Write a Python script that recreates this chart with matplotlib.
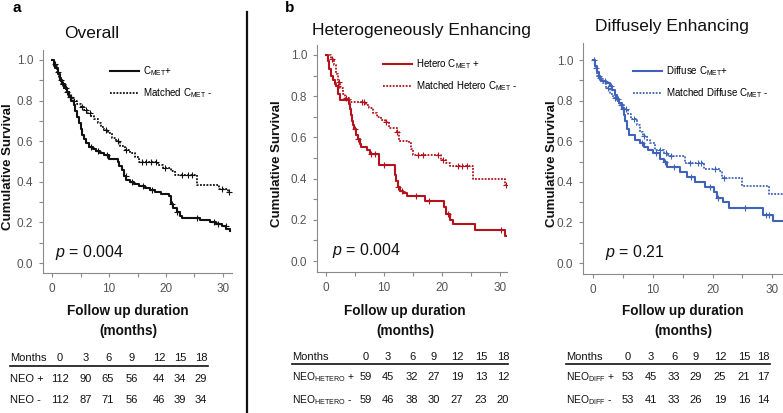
import numpy as np
import matplotlib
matplotlib.use("Agg")
import matplotlib.pyplot as plt
from matplotlib import font_manager
from matplotlib.lines import Line2D
from matplotlib.ticker import MultipleLocator

# ---------------- data ----------------
a_pos_t = [0, 0.3, 0.6, 1.0, 1.4, 1.8, 2.2, 2.6, 3.0, 3.4, 3.8, 4.1, 4.4, 4.7, 5.0, 5.3, 5.6, 6.0, 6.5, 7.2, 7.8, 8.5, 9.2, 10.0, 11.5, 11.8, 12.2, 12.6, 13.0, 13.6, 14.3, 15.2, 16.3, 17.2, 18.1, 19.2, 20.5, 20.8, 21.3, 21.9, 22.4, 22.8, 26.0, 27.8, 28.8, 29.8, 30.6, 31.2]
a_pos_s = [1.0, 0.98, 0.96, 0.93, 0.90, 0.88, 0.86, 0.84, 0.82, 0.80, 0.78, 0.75, 0.72, 0.69, 0.66, 0.63, 0.61, 0.59, 0.57, 0.56, 0.55, 0.54, 0.53, 0.51, 0.50, 0.48, 0.46, 0.43, 0.41, 0.40, 0.39, 0.38, 0.37, 0.36, 0.35, 0.34, 0.33, 0.29, 0.27, 0.25, 0.23, 0.22, 0.21, 0.20, 0.19, 0.18, 0.17, 0.16]
a_neg_t = [0, 0.4, 0.8, 1.2, 1.6, 2.0, 2.5, 3.0, 3.6, 4.3, 5.0, 5.6, 6.2, 6.8, 7.4, 8.0, 8.6, 9.2, 9.8, 10.5, 11.2, 12.0, 12.8, 13.6, 14.5, 15.3, 18.6, 19.5, 20.8, 21.6, 25.5, 29.3, 30.8]
a_neg_s = [1.0, 0.97, 0.94, 0.91, 0.88, 0.86, 0.84, 0.82, 0.80, 0.785, 0.77, 0.755, 0.74, 0.725, 0.71, 0.69, 0.67, 0.655, 0.64, 0.615, 0.60, 0.575, 0.555, 0.54, 0.52, 0.50, 0.485, 0.47, 0.455, 0.435, 0.385, 0.365, 0.35]
a_pos_cens = [0.5, 1.5, 2.4, 3.1, 6.8, 8.0, 9.6, 12.9, 14.0, 16.0, 17.5, 21.0, 22.0, 25.5, 28.5, 29.2, 30.5]
a_neg_cens = [1.0, 1.9, 2.6, 3.3, 3.9, 5.2, 6.0, 6.6, 9.5, 11.5, 13.0, 15.8, 16.5, 17.3, 18.2, 19.8, 22.8, 23.8, 24.6, 29.9, 31.0]
a_end = 31.3

b_pos_t = [0, 0.3, 0.6, 0.9, 1.2, 1.5, 1.8, 2.1, 2.4, 3.9, 4.1, 4.3, 4.5, 4.7, 4.9, 5.2, 5.5, 5.8, 6.1, 7.0, 7.6, 9.2, 11.9, 12.1, 12.4, 12.7, 13.3, 13.9, 17.1, 20.3, 20.7, 21.3, 21.9, 25.6, 30.9]
b_pos_s = [1.0, 0.97, 0.93, 0.90, 0.88, 0.86, 0.85, 0.81, 0.78, 0.76, 0.74, 0.71, 0.68, 0.66, 0.64, 0.61, 0.59, 0.57, 0.555, 0.54, 0.52, 0.465, 0.42, 0.39, 0.36, 0.34, 0.33, 0.315, 0.29, 0.26, 0.23, 0.20, 0.18, 0.15, 0.12]
b_neg_t = [0, 0.8, 1.3, 1.7, 2.1, 2.5, 2.9, 3.3, 4.0, 4.3, 6.9, 7.4, 8.1, 8.8, 9.4, 10.2, 10.8, 12.2, 12.5, 14.3, 14.6, 15.0, 19.8, 20.6, 21.3, 25.3, 30.9]
b_neg_s = [1.0, 0.98, 0.95, 0.91, 0.87, 0.84, 0.81, 0.79, 0.78, 0.772, 0.755, 0.745, 0.72, 0.70, 0.685, 0.675, 0.645, 0.625, 0.585, 0.575, 0.545, 0.515, 0.49, 0.475, 0.46, 0.40, 0.37]
b_pos_cens = [2.0, 5.0, 5.6, 7.8, 8.5, 10.0, 12.4, 13.1, 15.5, 17.8, 21.0, 30.2]
b_neg_cens = [1.0, 2.3, 3.5, 6.2, 6.6, 10.3, 12.3, 15.8, 16.8, 19.3, 20.2, 22.8, 23.5, 24.3, 31.0]
b_end = 31.1

c_pos_t = [0, 0.3, 0.6, 1.0, 1.4, 2.1, 2.8, 3.2, 3.6, 4.0, 4.4, 4.8, 5.1, 5.4, 5.7, 6.0, 7.0, 7.9, 8.6, 9.2, 10.1, 11.2, 11.8, 12.3, 14.6, 15.7, 17.1, 18.8, 20.2, 20.7, 21.8, 22.7, 28.5, 30.2]
c_pos_s = [1.0, 0.97, 0.94, 0.91, 0.895, 0.885, 0.87, 0.85, 0.83, 0.81, 0.79, 0.76, 0.73, 0.70, 0.66, 0.63, 0.605, 0.59, 0.57, 0.555, 0.54, 0.515, 0.50, 0.475, 0.45, 0.425, 0.40, 0.375, 0.35, 0.32, 0.30, 0.27, 0.235, 0.205]
c_neg_t = [0, 0.3, 0.7, 1.1, 1.6, 2.2, 2.8, 3.3, 3.8, 4.4, 5.2, 5.8, 6.3, 7.3, 7.8, 8.4, 9.0, 9.6, 10.4, 11.8, 12.6, 15.4, 18.5, 21.3, 21.6, 24.9, 29.4]
c_neg_s = [1.0, 0.96, 0.92, 0.90, 0.885, 0.86, 0.835, 0.815, 0.80, 0.78, 0.76, 0.735, 0.71, 0.68, 0.645, 0.625, 0.605, 0.59, 0.555, 0.54, 0.525, 0.495, 0.465, 0.455, 0.42, 0.38, 0.34]
c_pos_cens = [0.2, 1.2, 2.0, 3.0, 4.2, 5.0, 8.2, 10.5, 12.0, 13.6, 16.4, 19.6, 21.0, 25.5, 28.9, 29.5]
c_neg_cens = [0.5, 1.0, 2.5, 3.6, 4.6, 5.6, 6.8, 8.6, 11.2, 12.2, 13.0, 16.2, 17.5, 18.0, 20.5, 22.0]
c_end = 31.8

table_months = [0, 3, 6, 9, 12, 15, 18]
a_pos_risk = [112, 90, 65, 56, 44, 34, 29]
a_neg_risk = [112, 87, 71, 56, 46, 39, 34]
b_pos_risk = [59, 45, 32, 27, 19, 13, 12]
b_neg_risk = [59, 46, 38, 30, 27, 23, 20]
c_pos_risk = [53, 45, 33, 29, 25, 21, 17]
c_neg_risk = [53, 41, 33, 26, 19, 16, 14]

titles = ["Overall", "Heterogeneously Enhancing", "Diffusely Enhancing"]
pvals = ["0.004", "0.004", "0.21"]

# ---------------- fonts ----------------
def have(fam):
    try:
        font_manager.findfont(font_manager.FontProperties(family=fam), fallback_to_default=False)
        return True
    except Exception:
        return False

SANS = "Liberation Sans" if have("Liberation Sans") else "DejaVu Sans"
NARROW = "Liberation Sans Narrow" if have("Liberation Sans Narrow") else SANS
plt.rcParams["font.family"] = [SANS, "DejaVu Sans"]
plt.rcParams["mathtext.fontset"] = "custom"
plt.rcParams["mathtext.rm"] = NARROW
plt.rcParams["mathtext.it"] = NARROW + ":italic"

W, H = 783, 413
fig = plt.figure(figsize=(W / 100, H / 100), dpi=100)
fig.patch.set_facecolor("white")

def ftext(x, y, s, **kw):
    kw.setdefault("va", "center")
    fig.text(x / W, 1 - y / H, s, **kw)

def make_ax(left, right, top, bottom, xlim, ylim):
    ax = fig.add_axes([left / W, 1 - bottom / H, (right - left) / W, (bottom - top) / H])
    ax.set_xlim(*xlim)
    ax.set_ylim(*ylim)
    for s in ["top", "right"]:
        ax.spines[s].set_visible(False)
    for s in ["left", "bottom"]:
        ax.spines[s].set_color("#8a8a8a")
        ax.spines[s].set_linewidth(0.8)
    ax.xaxis.set_major_locator(MultipleLocator(10))
    ax.xaxis.set_minor_locator(MultipleLocator(5))
    ax.yaxis.set_major_locator(MultipleLocator(0.2))
    ax.yaxis.set_minor_locator(MultipleLocator(0.1))
    ax.yaxis.set_major_formatter(matplotlib.ticker.FormatStrFormatter("%.1f"))
    ax.tick_params(which="both", direction="out", length=3, width=0.8, color="#8a8a8a",
                   labelcolor="#555555", labelsize=8.5, pad=4)
    ax.tick_params(which="minor", labelleft=False, labelbottom=False)
    ax.patch.set_alpha(0)
    return ax

def km(ax, t, s, end, cens, color, ls, lw, label):
    tt = list(t) + [end]
    ss = list(s) + [s[-1]]
    ax.plot(tt, ss, drawstyle="steps-post", color=color, ls=ls, lw=lw, label=label)
    ta = np.asarray(t)
    sa = np.asarray(s)
    cy = [sa[np.searchsorted(ta, c, side="right") - 1] for c in cens]
    ax.plot(cens, cy, ls="none", marker="+", ms=4, mew=0.8, color=color)

DOT = (0, (1, 0.8))

panels = [
    dict(rect=(43, 232, 50, 273), xlim=(-1.58, 31.58), ylim=(-0.049, 1.049),
         color="#111111",
         pos=(a_pos_t, a_pos_s, a_end, a_pos_cens), neg=(a_neg_t, a_neg_s, a_end, a_neg_cens),
         labels=[r"C$_{\mathrm{MET}}$+", r"Matched C$_{\mathrm{MET}}$ -"],
         leg=(110, 64), title=(92, 33), ylab=8, xlabc=128, pv=(55, 252)),
    dict(rect=(317, 507, 45, 272), xlim=(-1.55, 31.2), ylim=(-0.053, 1.0485),
         color="#b5121b",
         pos=(b_pos_t, b_pos_s, b_end, b_pos_cens), neg=(b_neg_t, b_neg_s, b_end, b_neg_cens),
         labels=[r"Hetero C$_{\mathrm{MET}}$ +", r"Matched Hetero C$_{\mathrm{MET}}$ -"],
         leg=(383, 57), title=(421, 30), ylab=277, xlabc=405, pv=(332, 250)),
    dict(rect=(583, 783, 43, 274), xlim=(-1.68, 31.8), ylim=(-0.054, 1.084),
         color="#3f63b8",
         pos=(c_pos_t, c_pos_s, c_end, c_pos_cens), neg=(c_neg_t, c_neg_s, c_end, c_neg_cens),
         labels=[r"Diffuse C$_{\mathrm{MET}}$+", r"Matched Diffuse C$_{\mathrm{MET}}$ -"],
         leg=(633, 64), title=(672, 27), ylab=552, xlabc=683, pv=(605, 252)),
]

for i, p in enumerate(panels):
    l, r, t, b = p["rect"]
    ax = make_ax(l, r, t, b, p["xlim"], p["ylim"])
    km(ax, *p["pos"], p["color"], "-", 1.5, p["labels"][0])
    km(ax, *p["neg"], p["color"], DOT, 1.3, p["labels"][1])
    lx, ly = p["leg"]
    ax.legend(loc="upper left", bbox_to_anchor=(lx / W, 1 - ly / H), bbox_transform=fig.transFigure,
              frameon=False, borderpad=0, borderaxespad=0, handlelength=3.0, handletextpad=0.4,
              labelspacing=0.85, prop=dict(family=NARROW, size=7.0))
    tx, ty = p["title"]
    ftext(tx, ty, titles[i], ha="center", fontsize=12.5, color="#111111")
    ftext(p["ylab"], (t + b) / 2 + 5, "Cumulative Survival", ha="center", rotation=90,
          fontsize=9.5, fontweight="bold", color="#111111")
    ftext(p["xlabc"], 311, "Follow up duration", ha="center", fontsize=9.8, fontweight="bold", color="#111111")
    ftext(p["xlabc"], 331, "(months)", ha="center", fontsize=9.8, fontweight="bold", color="#111111")
    px, py = p["pv"]
    ftext(px, py, r"$p$ = " + pvals[i], ha="left", fontsize=11.5, color="#111111",
          family=[SANS, "DejaVu Sans"])

# panel letters
ftext(17, 8, "a", ha="center", fontsize=11, fontweight="bold")
ftext(290, 8, "b", ha="center", fontsize=11, fontweight="bold")

# divider
fig.add_artist(Line2D([247 / W, 247 / W], [1 - 12 / H, 0], color="#111111", lw=1.6))

# tables
tables = [
    dict(x0=10, xe=208, cols=[60, 86, 108, 132, 159, 180, 201], hy=358, ly=366, r1=379, r2=400,
         names=["NEO +", "NEO -"], rows=(a_pos_risk, a_neg_risk)),
    dict(x0=292, xe=508, cols=[366, 388, 412, 434, 457, 481, 503], hy=357, ly=364, r1=377, r2=400,
         names=[r"NEO$_{\mathrm{HETERO}}$ +", r"NEO$_{\mathrm{HETERO}}$ -"], rows=(b_pos_risk, b_neg_risk)),
    dict(x0=566, xe=770, cols=[628, 651, 674, 696, 720, 744, 763], hy=357, ly=364, r1=377, r2=400,
         names=[r"NEO$_{\mathrm{DIFF}}$ +", r"NEO$_{\mathrm{DIFF}}$ -"], rows=(c_pos_risk, c_neg_risk)),
]
tk = dict(fontsize=8.0, color="#111111", family=[NARROW, "DejaVu Sans"])
tn = dict(tk, fontsize=7.4)
for tb in tables:
    ftext(tb["x0"], tb["hy"], "Months", ha="left", **tk)
    for cx, m in zip(tb["cols"], table_months):
        ftext(cx, tb["hy"], str(m), ha="center", **tk)
    fig.add_artist(Line2D([tb["x0"] / W, tb["xe"] / W], [1 - tb["ly"] / H] * 2, color="#111111", lw=1.2))
    for ry, name, vals in zip((tb["r1"], tb["r2"]), tb["names"], tb["rows"]):
        ftext(tb["x0"], ry, name, ha="left", **(tn if "$" in name else tk))
        for cx, v in zip(tb["cols"], vals):
            ftext(cx, ry, str(v), ha="center", **tk)

fig.savefig("out.png", dpi=100, facecolor="white")
